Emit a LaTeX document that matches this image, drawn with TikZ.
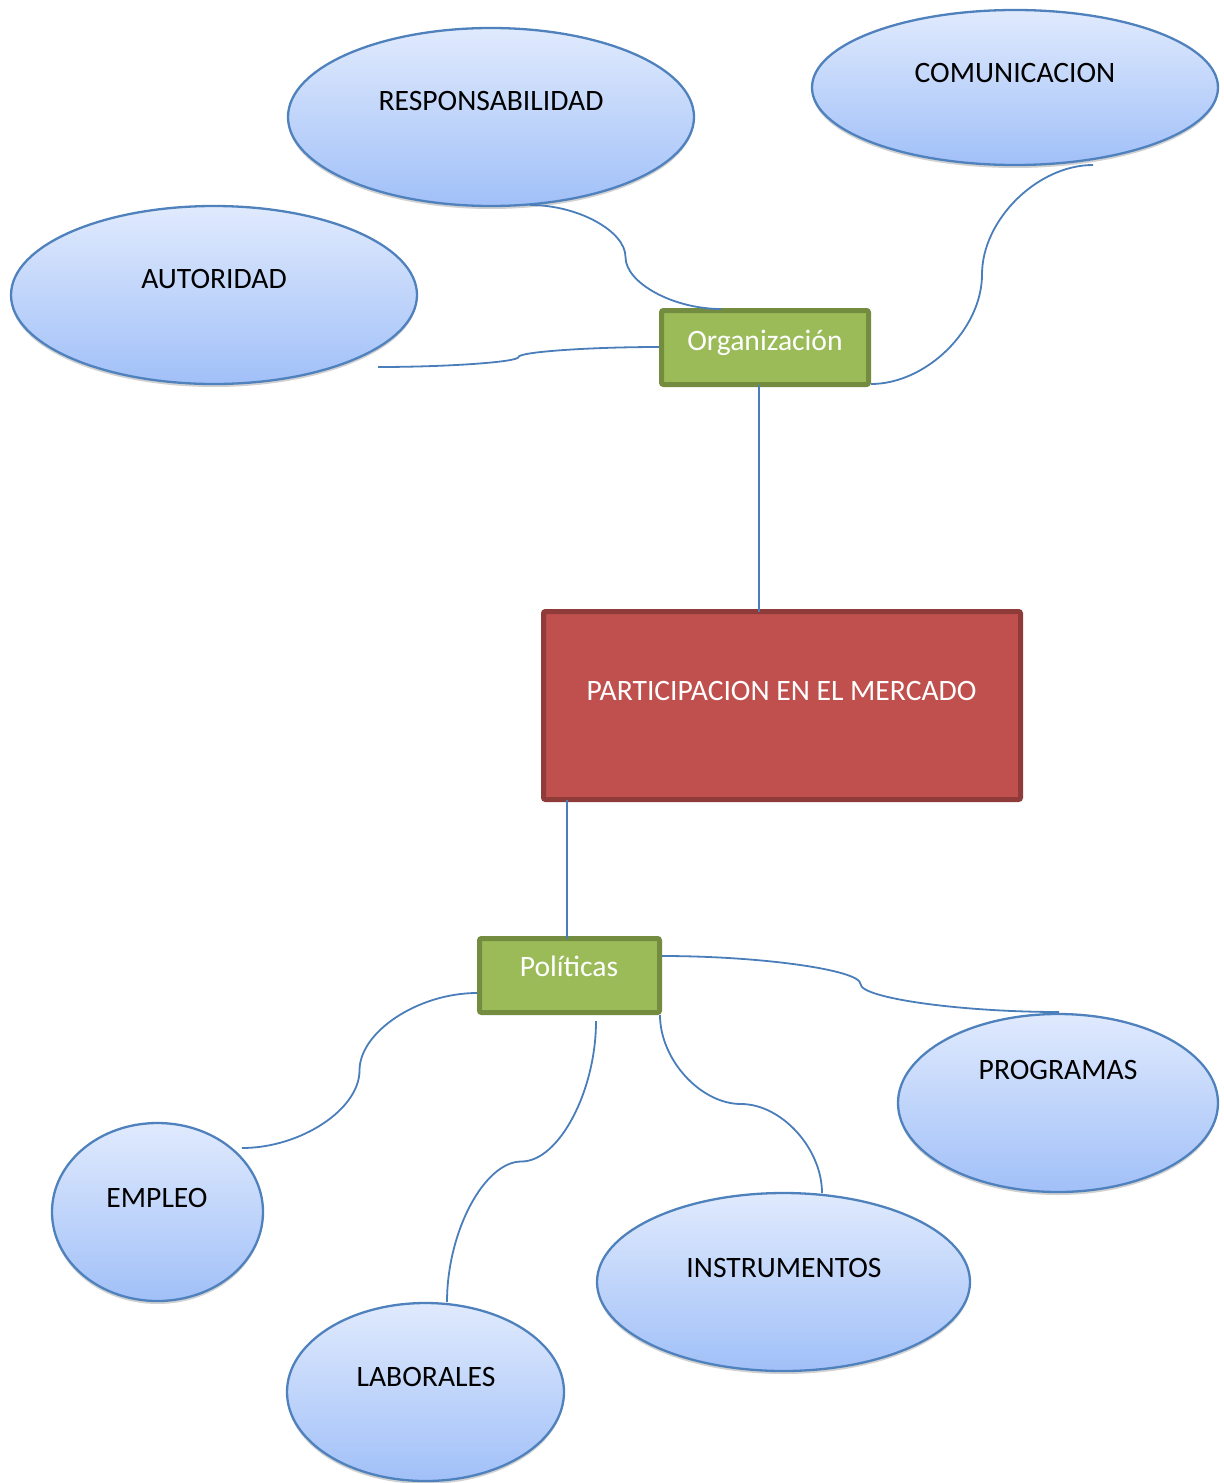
\documentclass[tikz,border=0pt]{standalone}
\usepackage{fontspec}
\setmainfont{Carlito}
\usetikzlibrary{calc,shapes.geometric,shadows}
\definecolor{bubtop}{HTML}{E0EAFD}
\definecolor{bubbot}{HTML}{A1C0F8}
\definecolor{bubline}{HTML}{4F81BD}
\definecolor{connline}{HTML}{4A7EBB}
\definecolor{greenfill}{HTML}{9BBB59}
\definecolor{greenline}{HTML}{748C40}
\definecolor{redfill}{HTML}{C0504D}
\definecolor{redline}{HTML}{8E3B39}
\tikzset{
  bub/.style={ellipse, draw=bubline, line width=1.15pt, top color=bubtop, bottom color=bubbot,
    inner sep=0pt, outer sep=0pt,
    drop shadow={shadow xshift=0pt, shadow yshift=-1.5pt, opacity=0.18, fill=black}},
  gbox/.style={rectangle, rounded corners=1pt, draw=greenline, fill=greenfill, line width=2.5pt, inner sep=0pt, outer sep=0pt},
  rbox/.style={rectangle, rounded corners=1pt, draw=redline, fill=redfill, line width=2.5pt, inner sep=0pt, outer sep=0pt},
  txt/.style={anchor=base, inner sep=0pt, font=\fontsize{14.8}{17}\selectfont, text=black},
  wtxt/.style={txt, text=white},
  conn/.style={draw=connline, line width=0.9pt},
  hvh/.style={to path={let \p1=(\tikztostart), \p2=(\tikztotarget) in
    .. controls ({0.75*\x1+0.25*\x2},\y1) and ({0.5*\x1+0.5*\x2},{0.75*\y1+0.25*\y2})
    .. ({0.5*\x1+0.5*\x2},{0.5*\y1+0.5*\y2})
    .. controls ({0.5*\x1+0.5*\x2},{0.25*\y1+0.75*\y2}) and ({0.25*\x1+0.75*\x2},\y2)
    .. (\tikztotarget)}},
  vhv/.style={to path={let \p1=(\tikztostart), \p2=(\tikztotarget) in
    .. controls (\x1,{0.75*\y1+0.25*\y2}) and ({0.75*\x1+0.25*\x2},{0.5*\y1+0.5*\y2})
    .. ({0.5*\x1+0.5*\x2},{0.5*\y1+0.5*\y2})
    .. controls ({0.25*\x1+0.75*\x2},{0.5*\y1+0.5*\y2}) and (\x2,{0.25*\y1+0.75*\y2})
    .. (\tikztotarget)}}
}
\begin{document}
\begin{tikzpicture}[x=0.5pt,y=-0.5pt]
\useasboundingbox (0,0) rectangle (1223,1483);

% bubbles
\node[bub, minimum width=203pt, minimum height=89pt] (resp) at (491,117) {};
\node[bub, minimum width=203pt, minimum height=77.5pt] (com) at (1015,87.5) {};
\node[bub, minimum width=203pt, minimum height=89pt] (aut) at (214,295) {};
\node[bub, minimum width=160pt, minimum height=89pt] (pro) at (1058,1103) {};
\node[bub, minimum width=105.5pt, minimum height=89pt] (emp) at (157.5,1212) {};
\node[bub, minimum width=186.5pt, minimum height=89pt] (ins) at (783.5,1282) {};
\node[bub, minimum width=138.5pt, minimum height=89pt] (lab) at (425.5,1392) {};

\node[txt] (resp-t) at (491,110) {RESPONSABILIDAD};
\node[txt] (com-t) at (1015,82) {COMUNICACION};
\node[txt] (aut-t) at (214,288) {AUTORIDAD};
\node[txt] (pro-t) at (1058,1079) {PROGRAMAS};
\node[txt] (emp-t) at (157,1207) {EMPLEO};
\node[txt] (ins-t) at (784,1277) {INSTRUMENTOS};
\node[txt] (lab-t) at (426,1386) {LABORALES};

% boxes
\node[gbox, minimum width=103.5pt, minimum height=37pt] (org) at (765,347.5) {};
\node[rbox, minimum width=238.5pt, minimum height=94pt] (part) at (782,705.5) {};
\node[gbox, minimum width=90pt, minimum height=37pt] (pol) at (569.5,975.5) {};

\node[wtxt] (org-t) at (765,350) {Organización};
\node[wtxt] (part-t) at (781.5,700) {PARTICIPACION EN EL MERCADO};
\node[wtxt] (pol-t) at (569,976.5) {Políticas};

% connector end points
\coordinate (c1a) at (530,205);  \coordinate (c1b) at (721,309);
\coordinate (c2a) at (378,367);  \coordinate (c2b) at (659,347);
\coordinate (c3a) at (1093,165); \coordinate (c3b) at (871,384);
\coordinate (c6a) at (477,993);  \coordinate (c6b) at (242,1148);
\coordinate (c7a) at (596,1021); \coordinate (c7b) at (447,1302);
\coordinate (c8a) at (660,1015); \coordinate (c8b) at (822,1193);
\coordinate (c9a) at (662,956);  \coordinate (c9b) at (1059,1012);

\draw[conn] (c1a) to[hvh] (c1b);
\draw[conn] (c2a) to[hvh] (c2b);
\draw[conn] (c3a) to[hvh] (c3b);
\draw[conn] ([xshift=-3pt]org.south) -- ([xshift=-3pt]org.south |- part.north);
\draw[conn] ([xshift=-1.25pt]pol.north |- part.south) -- ([xshift=-1.25pt]pol.north);
\draw[conn] (c6a) to[hvh] (c6b);
\draw[conn] (c7a) to[vhv] (c7b);
\draw[conn] (c8a) to[vhv] (c8b);
\draw[conn] (c9a) to[hvh] (c9b);
\end{tikzpicture}
\end{document}
